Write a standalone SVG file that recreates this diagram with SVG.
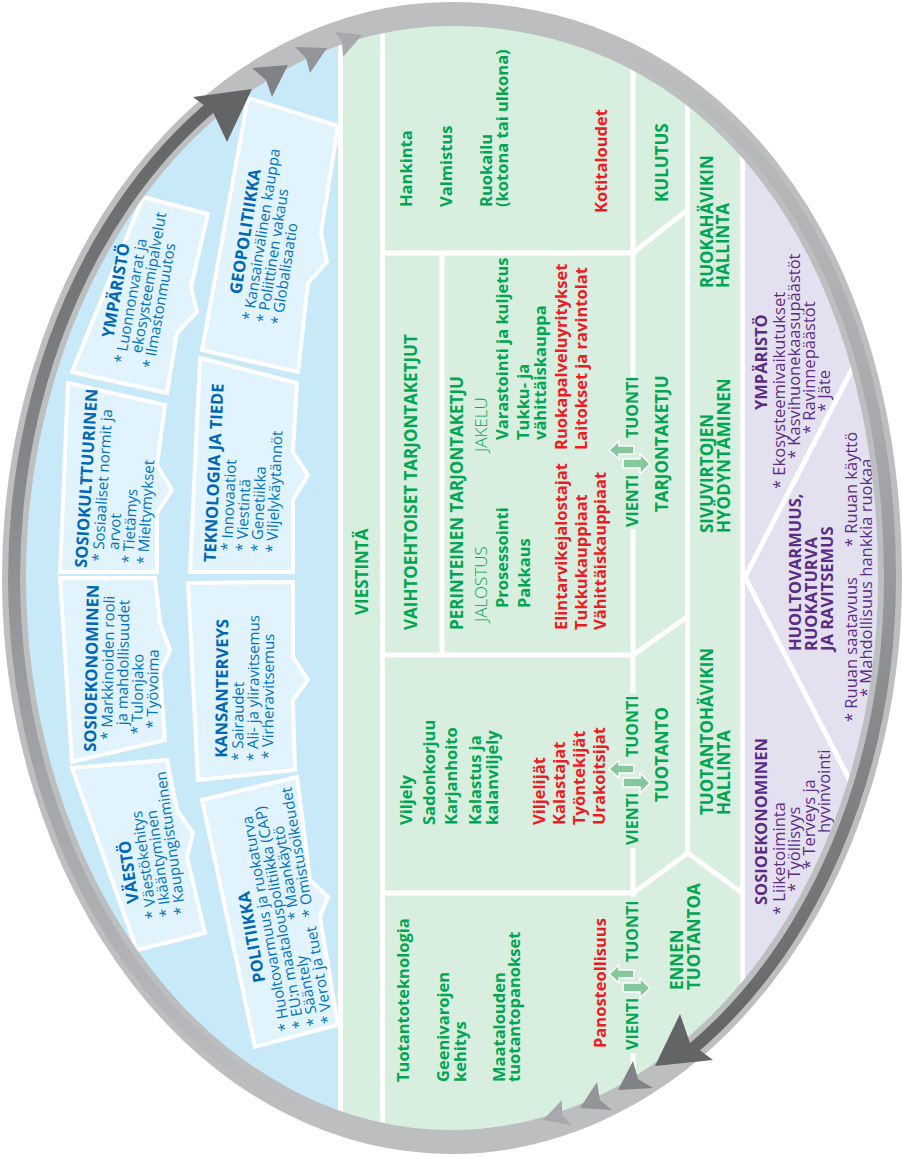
<svg xmlns="http://www.w3.org/2000/svg" width="903" height="1156" viewBox="0 0 903 1156">
  <defs>
    <style>
      text{font-family:'Open Sans','Noto Sans','DejaVu Sans',sans-serif}
      .gi{fill:#00a651;font-size:16.5px;font-weight:700}
      .gl{fill:#00a651;font-size:17px;font-weight:300}
      .gh{fill:#00a651;font-size:17px;font-weight:700}
      .gv{fill:#00a651;font-size:16px;font-weight:700}
      .ri{fill:#ed1c24;font-size:16.5px;font-weight:700}
      .bh{fill:#0068b5;font-size:16.5px;font-weight:700}
      .bi{fill:#0072bc;font-size:15px;font-weight:400}
      .ph{fill:#5b2c86;font-size:16.5px;font-weight:700}
      .pi{fill:#5b2c86;font-size:16.5px;font-weight:400}
      .box{fill:#e1f3fc;stroke:#fff;stroke-width:4;stroke-linejoin:miter}
      .wl{stroke:#fff;stroke-width:5;fill:none}
      .arr{fill:#86c79c;stroke:#fff;stroke-width:1.5}
    </style>
    <clipPath id="inner">
      <path d="M451,23 C703.5,23 881,245 881,578 A430,555 0 0 1 451,1133 A428,555 0 0 1 23,578 A428,555 0 0 1 451,23 Z"/>
    </clipPath>
    <linearGradient id="leftArc" gradientUnits="userSpaceOnUse" x1="0" y1="1120" x2="0" y2="101">
      <stop offset="0" stop-color="#bcbec0"/>
      <stop offset="0.3" stop-color="#a6a8ab"/>
      <stop offset="1" stop-color="#636466"/>
    </linearGradient>
    <linearGradient id="rightArc" gradientUnits="userSpaceOnUse" x1="0" y1="29" x2="0" y2="1051">
      <stop offset="0" stop-color="#bcbec0"/>
      <stop offset="0.4" stop-color="#a7a9ac"/>
      <stop offset="1" stop-color="#636466"/>
    </linearGradient>
    <!-- export / import arrow pair, positioned relative to the TUONTI label -->
    <g id="vt">
      <polygon class="arr" points="609,12 619,3 619,8 634,8 634,16 619,16 619,21"/>
      <polygon class="arr" points="650,26 640,16 640,21 623,21 623,30 640,30 640,36"/>
    </g>
  </defs>

  <!-- background sectors -->
  <g id="sectors" clip-path="url(#inner)">
    <rect x="0" y="0" width="340" height="1156" fill="#c8e9f8"/>
    <rect x="340" y="0" width="404" height="1156" fill="#d8eedf"/>
    <rect x="744" y="0" width="159" height="1156" fill="#e3e0ef"/>
  </g>

  <!-- driver boxes -->
  <g id="driver-boxes">
    <polygon id="box-geopolitiikka" class="box" points="248,98 338,126 321,233 327,262 308,283 298,372 202,350"/>
    <polygon id="box-ymparisto" class="box" points="143,197 208,214 191,287 197,312 177,333 167,393 72,372"/>
    <polygon id="box-sosiokulttuurinen" class="box" points="68,383 165,405 157,465 172,490 157,513 157,572 60,572"/>
    <polygon id="box-teknologia" class="box" points="200,358 297,383 293,452 308,475 293,500 293,572 190,572"/>
    <polygon id="box-sosioekonominen" class="box" points="60,578 155,578 160,623 170,650 160,673 165,740 72,762"/>
    <polygon id="box-kansanterveys" class="box" points="188,583 293,582 293,657 308,680 293,700 295,770 198,780"/>
    <polygon id="box-vaesto" class="box" points="72,768 167,760 177,810 193,833 187,857 205,933 137,950"/>
    <polygon id="box-politiikka" class="box" points="202,800 297,777 310,880 328,897 320,917 337,1020 337,1025 255,1047"/>
  </g>

  <!-- white dividers -->
  <g id="connectors" clip-path="url(#inner)">
    <line class="wl" x1="340.5" y1="0" x2="340.5" y2="1156"/>
    <line class="wl" x1="382.5" y1="0" x2="382.5" y2="1156"/>
    <line class="wl" x1="382" y1="253" x2="633" y2="253"/>
    <line class="wl" x1="382" y1="655" x2="633" y2="655"/>
    <line class="wl" x1="382" y1="893" x2="633" y2="893"/>
    <line class="wl" x1="442" y1="253" x2="442" y2="655"/>
    <line class="wl" x1="633" y1="0" x2="633" y2="377"/>
    <line class="wl" x1="633" y1="529" x2="633" y2="693"/>
    <line class="wl" x1="633" y1="848" x2="633" y2="897"/>
    <line class="wl" x1="633" y1="1053" x2="633" y2="1156"/>
    <line class="wl" x1="633" y1="253" x2="687" y2="210"/>
    <line class="wl" x1="633" y1="655" x2="687" y2="617"/>
    <polyline class="wl" points="633,893 688,853 742,893"/>
    <line class="wl" x1="687.5" y1="0" x2="687.5" y2="853"/>
    <line class="wl" x1="742.5" y1="0" x2="742.5" y2="1156"/>
    <line class="wl" x1="745" y1="577" x2="862" y2="350"/>
    <line class="wl" x1="745" y1="577" x2="864" y2="808"/>
  </g>

  <!-- export / import arrows -->
  <g id="trade-arrows">
    <use href="#vt" transform="translate(0,438)"/>
    <use href="#vt" transform="translate(0,757)"/>
    <use href="#vt" transform="translate(0,962)"/>
  </g>

  <!-- food system labels (read bottom to top) -->
  <g id="food-system" transform="rotate(-90)">
    <text class="gh" x="-615" y="368">VIESTINTÄ</text>

    <g id="consumption">
      <text class="gi" x="-207" y="412">Hankinta</text>
      <text class="gi" x="-207" y="452">Valmistus</text>
      <text class="gi" x="-207" y="492">Ruokailu</text>
      <text class="gi" x="-207" y="508">(kotona tai ulkona)</text>
      <text class="ri" x="-213" y="607">Kotitaloudet</text>
      <text class="gh" x="-202" y="668">KULUTUS</text>
      <text class="gh" x="-288" y="713">RUOKAHÄVIKIN</text>
      <text class="gh" x="-288" y="729">HALLINTA</text>
    </g>

    <g id="supply-chain">
      <text class="gh" x="-630" y="417">VAIHTOEHTOISET TARJONTAKETJUT</text>
      <text class="gh" x="-630" y="463">PERINTEINEN TARJONTAKETJU</text>
      <text class="gl" x="-622" y="487">JALOSTUS</text>
      <text class="gi" x="-608" y="508">Prosessointi</text>
      <text class="gi" x="-608" y="530">Pakkaus</text>
      <text class="gl" x="-452" y="487">JAKELU</text>
      <text class="gi" x="-440" y="508">Varastointi ja kuljetus</text>
      <text class="gi" x="-440" y="529">Tukku- ja</text>
      <text class="gi" x="-440" y="546">vähittäiskauppa</text>
      <text class="ri" x="-450" y="567">Ruokapalveluyritykset</text>
      <text class="ri" x="-450" y="587">Laitokset ja ravintolat</text>
      <text class="ri" x="-630" y="567">Elintarvikejalostajat</text>
      <text class="ri" x="-630" y="587">Tukkukauppiaat</text>
      <text class="ri" x="-630" y="606">Vähittäiskauppiaat</text>
      <text class="gv" x="-527" y="638">VIENTI</text>
      <text class="gv" x="-438" y="638">TUONTI</text>
      <text class="gh" x="-512" y="668">TARJONTAKETJU</text>
      <text class="gh" x="-533" y="713">SIVUVIRTOJEN</text>
      <text class="gh" x="-533" y="730">HYÖDYNTÄMINEN</text>
    </g>

    <g id="production">
      <text class="gi" x="-825" y="412">Viljely</text>
      <text class="gi" x="-825" y="435">Sadonkorjuu</text>
      <text class="gi" x="-825" y="457">Karjanhoito</text>
      <text class="gi" x="-825" y="481">Kalastus ja</text>
      <text class="gi" x="-825" y="498">kalanviljely</text>
      <text class="ri" x="-825" y="545">Viljelijät</text>
      <text class="ri" x="-825" y="565">Kalastajat</text>
      <text class="ri" x="-825" y="585">Työntekijät</text>
      <text class="ri" x="-825" y="605">Urakoitsijat</text>
      <text class="gv" x="-845" y="638">VIENTI</text>
      <text class="gv" x="-757" y="638">TUONTI</text>
      <text class="gh" x="-802" y="668">TUOTANTO</text>
      <text class="gh" x="-815" y="713">TUOTANTOHÄVIKIN</text>
      <text class="gh" x="-815" y="730">HALLINTA</text>
    </g>

    <g id="pre-production">
      <text class="gi" x="-1082" y="409">Tuotantoteknologia</text>
      <text class="gi" x="-1082" y="449">Geenivarojen</text>
      <text class="gi" x="-1082" y="466">kehitys</text>
      <text class="gi" x="-1082" y="505">Maatalouden</text>
      <text class="gi" x="-1082" y="520">tuotantopanokset</text>
      <text class="ri" x="-1048" y="606">Panosteollisuus</text>
      <text class="gv" x="-1050" y="638">VIENTI</text>
      <text class="gv" x="-962" y="638">TUONTI</text>
      <text class="gh" x="-990" y="683">ENNEN</text>
      <text class="gh" x="-990" y="700">TUOTANTOA</text>
    </g>

    <g id="outcome-ymparisto">
      <text class="ph" x="-410" y="767">YMPÄRISTÖ</text>
      <text class="pi" x="-489" y="785">* Ekosysteemivaikutukset</text>
      <text class="pi" x="-459" y="800">* Kasvihuonekaasupäästöt</text>
      <text class="pi" x="-434" y="815">* Ravinnepäästöt</text>
      <text class="pi" x="-412" y="830">* Jäte</text>
    </g>
    <g id="outcome-huoltovarmuus">
      <text class="ph" x="-651" y="801">HUOLTOVARMUUS,</text>
      <text class="ph" x="-651" y="817">RUOKATURVA</text>
      <text class="ph" x="-651" y="833">JA RAVITSEMUS</text>
      <text class="pi" x="-722" y="857">* Ruuan saatavuus</text>
      <text class="pi" x="-547" y="857">* Ruuan käyttö</text>
      <text class="pi" x="-697" y="872">* Mahdollisuus hankkia ruokaa</text>
    </g>
    <g id="outcome-sosioekonominen">
      <text class="ph" x="-905" y="767">SOSIOEKONOMINEN</text>
      <text class="pi" x="-915" y="785">* Liiketoiminta</text>
      <text class="pi" x="-892" y="800">* Työllisyys</text>
      <text class="pi" x="-869" y="815">* Terveys ja</text>
      <text class="pi" x="-833" y="830">hyvinvointi</text>
    </g>
  </g>

  <!-- driver labels -->
  <g id="driver-geopolitiikka" transform="translate(253,321) rotate(-81)">
    <text class="bh" x="24" y="-16">GEOPOLITIIKKA</text>
    <text class="bi" x="0" y="0">* Kansainvälinen kauppa</text>
    <text class="bi" x="0" y="14.5">* Poliittinen vakaus</text>
    <text class="bi" x="0" y="29">* Globalisaatio</text>
  </g>
  <g id="driver-ymparisto" transform="translate(125,364) rotate(-80)">
    <text class="bh" x="23" y="-16">YMPÄRISTÖ</text>
    <text class="bi" x="0" y="0">* Luonnonvarat ja</text>
    <text class="bi" x="13" y="14.5">ekosysteemipalvelut</text>
    <text class="bi" x="0" y="29">* Ilmastonmuutos</text>
  </g>
  <g id="driver-sosiokulttuurinen" transform="translate(103,562) rotate(-86.5)">
    <text class="bh" x="-7" y="-16">SOSIOKULTTUURINEN</text>
    <text class="bi" x="0" y="0">* Sosiaaliset normit ja</text>
    <text class="bi" x="13" y="15">arvot</text>
    <text class="bi" x="0" y="30">* Tietämys</text>
    <text class="bi" x="0" y="45">* Mieltymykset</text>
  </g>
  <g id="driver-sosioekonominen" transform="translate(112,740) rotate(-89)">
    <text class="bh" x="-12" y="-16">SOSIOEKONOMINEN</text>
    <text class="bi" x="0" y="0">* Markkinoiden rooli</text>
    <text class="bi" x="15" y="15">ja mahdollisuudet</text>
    <text class="bi" x="6" y="30">* Tulonjako</text>
    <text class="bi" x="12" y="45">* Työvoima</text>
  </g>
  <g id="driver-teknologia" transform="translate(232,551) rotate(-87.4)">
    <text class="bh" x="-12" y="-16">TEKNOLOGIA JA TIEDE</text>
    <text class="bi" x="0" y="0">* Innovaatiot</text>
    <text class="bi" x="0" y="15">* Viestintä</text>
    <text class="bi" x="0" y="30">* Genetiikka</text>
    <text class="bi" x="0" y="45">* Viljelykäytännöt</text>
  </g>
  <g id="driver-kansanterveys" transform="translate(243,761) rotate(-89.5)">
    <text class="bh" x="3" y="-16">KANSANTERVEYS</text>
    <text class="bi" x="0" y="0">* Sairaudet</text>
    <text class="bi" x="0" y="15">* Ali- ja yliravitsemus</text>
    <text class="bi" x="2" y="30">* Virheravitsemus</text>
  </g>
  <g id="driver-vaesto" transform="translate(157,918) rotate(-98)">
    <text class="bh" x="18" y="-16">VÄESTÖ</text>
    <text class="bi" x="0" y="0">* Väestökehitys</text>
    <text class="bi" x="0" y="14.5">* Ikääntyminen</text>
    <text class="bi" x="0" y="29">* Kaupungistuminen</text>
  </g>
  <g id="driver-politiikka" transform="translate(290,1030) rotate(-100)">
    <text class="bh" x="52" y="-16">POLITIIKKA</text>
    <text class="bi" x="0" y="0">* Huoltovarmuus ja ruokaturva</text>
    <text class="bi" x="0" y="14.5">* EU:n maatalouspolitiikka (CAP)</text>
    <text class="bi" x="0" y="29">* Sääntely</text>
    <text class="bi" x="108" y="29">* Maankäyttö</text>
    <text class="bi" x="0" y="43.5">* Verot ja tuet</text>
    <text class="bi" x="108" y="43.5">* Omistusoikeudet</text>
  </g>

  <!-- cycle ring with flow arrows -->
  <g id="cycle">
    <path d="M451,14 C708.8,14 890,239.6 890,578 A439,564 0 0 1 451,1142 A437,564 0 0 1 14,578 A437,564 0 0 1 451,14 Z" fill="none" stroke="#bcbec0" stroke-width="24"/>
    <path d="M330,1120 A437,564 0 0 1 218,101" fill="none" stroke="url(#leftArc)" stroke-width="12"/>
    <path d="M561.5,28.9 C759.1,84.2 890,290.4 890,578 A439,564 0 0 1 690,1051" fill="none" stroke="url(#rightArc)" stroke-width="12"/>
    <polygon fill="#a7a9ac" points="362,35 335,32 342,42 343,57"/>
    <polygon fill="#939598" points="327,48 295,47 306,58 310,73"/>
    <polygon fill="#808285" points="288,65 252,68 266,80 272,97"/>
    <polygon fill="#636466" points="252,89 193,97 213,112 227,142"/>
    <polygon fill="#a7a9ac" points="543,1120 562,1100 562,1115 572,1125"/>
    <polygon fill="#939598" points="580,1108 597,1082 600,1100 612,1110"/>
    <polygon fill="#808285" points="618,1090 633,1061 638,1079 653,1088"/>
    <polygon fill="#636466" points="655,1066 680,1014 690,1043 713,1060"/>
  </g>
</svg>
